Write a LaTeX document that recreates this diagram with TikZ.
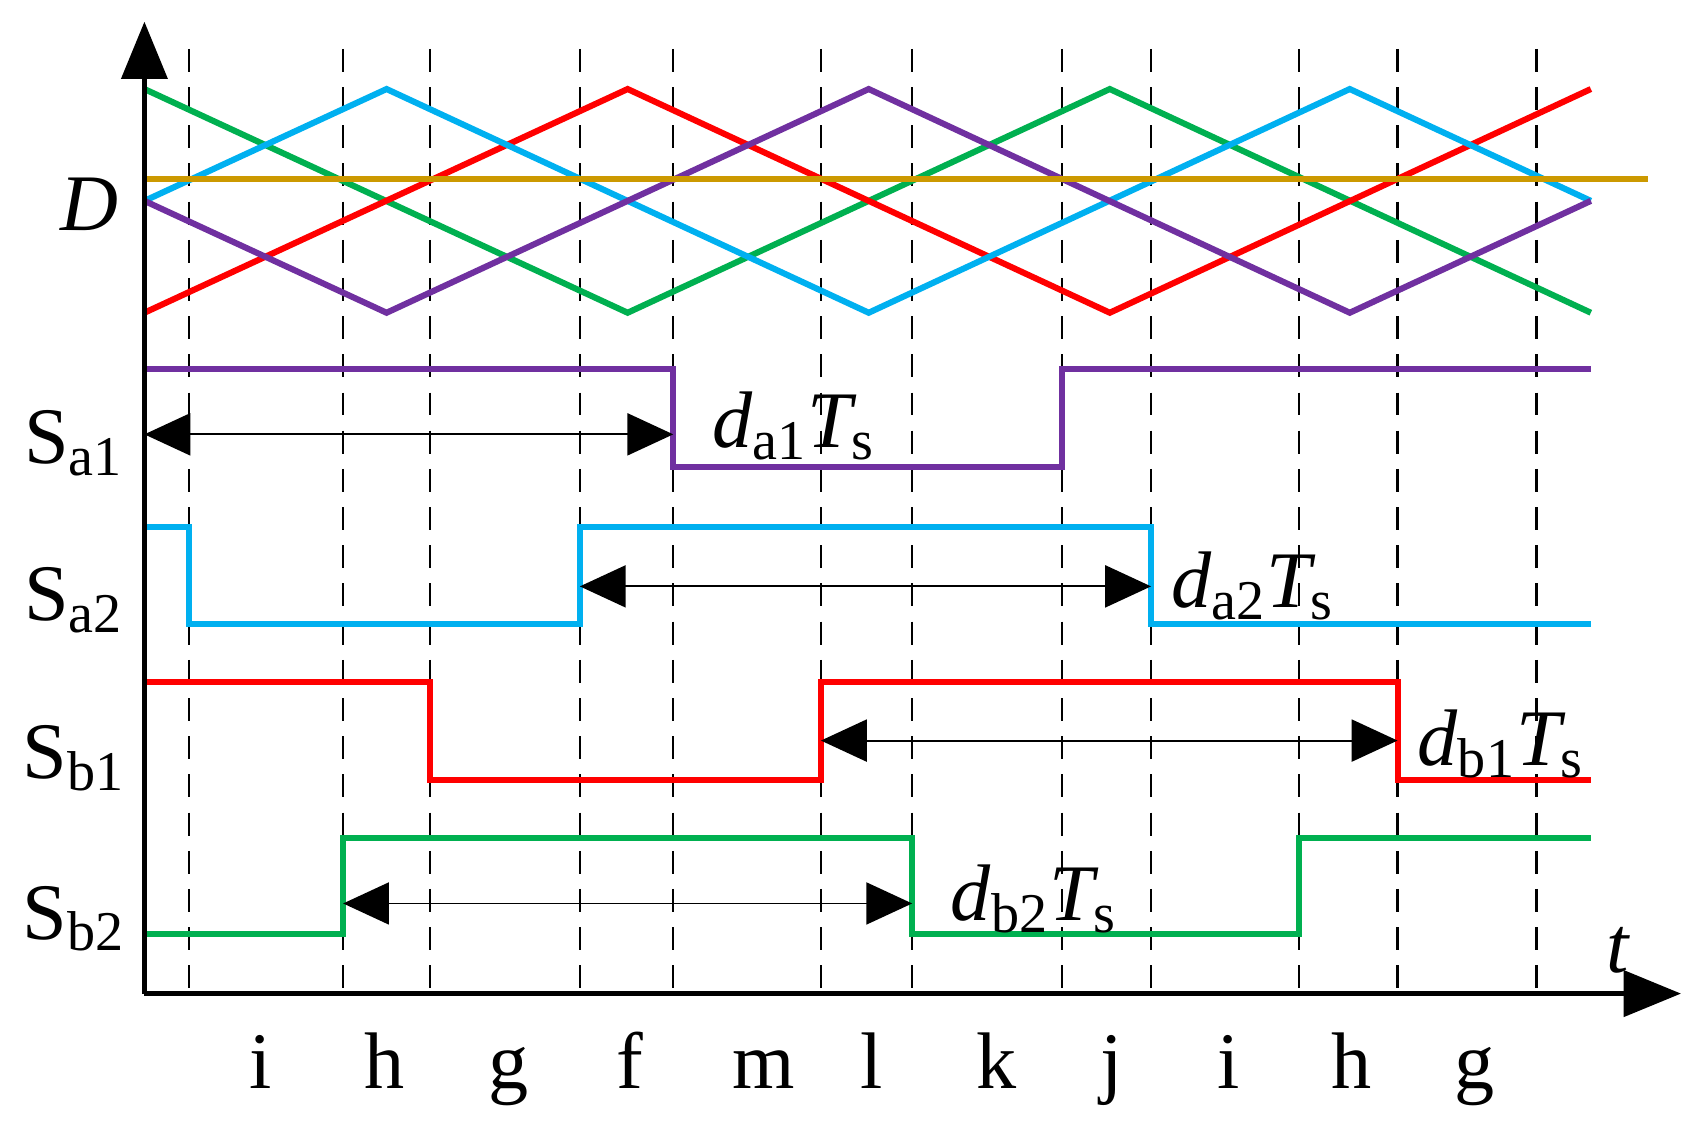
\documentclass[tikz,border=0pt]{standalone}
\usepackage{fontspec}
\setmainfont{Liberation Serif}
\usetikzlibrary{arrows.meta}
\definecolor{cG}{RGB}{0,176,80}
\definecolor{cR}{RGB}{255,0,0}
\definecolor{cC}{RGB}{0,176,240}
\definecolor{cP}{RGB}{112,48,160}
\definecolor{cO}{RGB}{204,153,0}
\begin{document}
\begin{tikzpicture}[x=0.01cm,y=-0.01cm,
  sig/.style={line width=1.6pt,line join=miter},
  dl/.style={dashed,dash pattern=on 6pt off 4pt,line width=0.6pt},
  dim/.style={line width=0.5pt,{Triangle[length=12pt,width=11pt]}-{Triangle[length=12pt,width=11pt]}},
  ax/.style={line width=1.2pt,-{Triangle[length=15pt,width=12pt]}},
  lab/.style={font=\fontsize{21}{24}\selectfont,inner sep=0pt}]
\useasboundingbox (0,0) rectangle (1560,1040);
% dashed
\foreach \x in {174,316,396,534,620,756,840,978,1060,1196,1287,1415}
  \draw[dl] (\x,45) -- (\x,915);
% triangles
\draw[sig,cG] (133,82) -- (578,288) -- (1022,82) -- (1465,288);
\draw[sig,cR] (133,288) -- (578,82) -- (1022,288) -- (1465,82);
\draw[sig,cC] (133,185) -- (356,82) -- (800,288) -- (1243,82) -- (1465,185);
\draw[sig,cP] (133,185) -- (356,288) -- (800,82) -- (1243,288) -- (1465,185);
\draw[sig,cO] (133,165) -- (1518,165);
% signals
\draw[sig,cP] (133,340) -- (620,340) -- (620,430) -- (978,430) -- (978,340) -- (1465,340);
\draw[sig,cC] (133,485) -- (174,485) -- (174,575) -- (534,575) -- (534,485) -- (1060,485) -- (1060,575) -- (1465,575);
\draw[sig,cR] (133,628) -- (396,628) -- (396,718) -- (756,718) -- (756,628) -- (1287,628) -- (1287,718) -- (1465,718);
\draw[sig,cG] (133,860) -- (316,860) -- (316,772) -- (840,772) -- (840,860) -- (1196,860) -- (1196,772) -- (1465,772);
% axes
\coordinate (O) at (133,915);
\coordinate (Y) at (133,20);
\coordinate (X) at (1548,915);
\draw[ax] (O) -- (Y);
\draw[ax] (O) -- (X);
% dimension arrows
\draw[dim] (133,400) -- (620,400);
\draw[dim] (534,540) -- (1060,540);
\draw[dim] (756,682) -- (1287,682);
\draw[dim] (316,832) -- (840,832);
\node[lab,anchor=west] (l1) at (655,392) {$\mathit{d}_{\mathrm{a1}}\mathit{T}_{\mathrm{s}}$};
\node[lab,anchor=west] (l2) at (1078,540) {$\mathit{d}_{\mathrm{a2}}\mathit{T}_{\mathrm{s}}$};
\node[lab,anchor=west] (l3) at (1305,685) {$\mathit{d}_{\mathrm{b1}}\mathit{T}_{\mathrm{s}}$};
\node[lab,anchor=west] (l4) at (875,828) {$\mathit{d}_{\mathrm{b2}}\mathit{T}_{\mathrm{s}}$};
% left labels
\node[lab] (D) at (82,188) {\textit{D}};
\node[lab] (s1) at (68,408) {S$_{\mathrm{a1}}$};
\node[lab] (s2) at (68,553) {S$_{\mathrm{a2}}$};
\node[lab] (s3) at (68,698) {S$_{\mathrm{b1}}$};
\node[lab] (s4) at (68,846) {S$_{\mathrm{b2}}$};
\node[lab] (t) at (1490,875) {\textit{t}};
% bottom letters
\foreach \x/\c [count=\i] in {240/i,354/h,468/g,580/f,703/m,803/l,918/k,1024/j,1131/i,1245/h,1358/g}
  \node[lab,anchor=base] (b\i) at (\x,1002) {\c};
\end{tikzpicture}
\end{document}
